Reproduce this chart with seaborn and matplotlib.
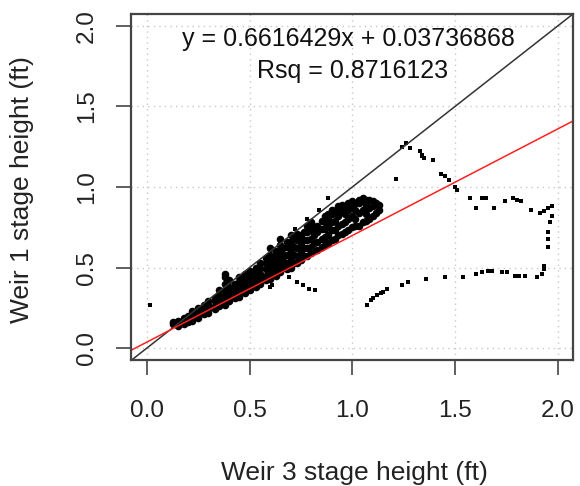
import pandas as pd
import matplotlib
matplotlib.use("Agg")
import matplotlib.pyplot as plt
import seaborn as sns

# regression fit shown on the chart
slope = 0.6616429
intercept = 0.03736868
rsq = 0.8716123

# dense band of points (weir 3 vs weir 1 stage height, ft)
band_x = [0.13, 0.13,
          0.15, 0.15, 0.15,
          0.18, 0.18, 0.18,
          0.20, 0.20, 0.20,
          0.22, 0.22, 0.22, 0.22,
          0.25, 0.25, 0.25, 0.25,
          0.28, 0.28, 0.28, 0.28,
          0.30, 0.30, 0.30, 0.30,
          0.33, 0.33, 0.33, 0.33,
          0.35, 0.35, 0.35, 0.35, 0.35,
          0.38, 0.38, 0.38, 0.38, 0.38, 0.38, 0.38,
          0.40, 0.40, 0.40, 0.40, 0.40,
          0.43, 0.43, 0.43, 0.43,
          0.45, 0.45, 0.45, 0.45, 0.45,
          0.48, 0.48, 0.48, 0.48, 0.48,
          0.50, 0.50, 0.50, 0.50, 0.50,
          0.53, 0.53, 0.53, 0.53, 0.53,
          0.55, 0.55, 0.55, 0.55, 0.55,
          0.58, 0.58, 0.58, 0.58, 0.58,
          0.60, 0.60, 0.60, 0.60, 0.60, 0.60,
          0.63, 0.63, 0.63, 0.63, 0.63,
          0.65, 0.65, 0.65, 0.65, 0.65, 0.65,
          0.68, 0.68, 0.68, 0.68, 0.68,
          0.70, 0.70, 0.70, 0.70, 0.70,
          0.73, 0.73, 0.73, 0.73, 0.73,
          0.75, 0.75, 0.75, 0.75,
          0.78, 0.78, 0.78, 0.78, 0.78,
          0.80, 0.80, 0.80, 0.80, 0.80,
          0.83, 0.83, 0.83, 0.83,
          0.85, 0.85, 0.85, 0.85,
          0.88, 0.88, 0.88, 0.88, 0.88,
          0.90, 0.90, 0.90, 0.90, 0.90,
          0.93, 0.93, 0.93, 0.93, 0.93,
          0.95, 0.95, 0.95, 0.95,
          0.98, 0.98, 0.98, 0.98,
          1.00, 1.00, 1.00, 1.00,
          1.03, 1.03, 1.03, 1.03,
          1.05, 1.05, 1.05, 1.05,
          1.08, 1.08, 1.08,
          1.10, 1.10, 1.10,
          1.13, 1.13,
          # in-between columns of the thick part of the band
          0.615, 0.615, 0.615,
          0.665, 0.665, 0.665, 0.665,
          0.715, 0.715, 0.715, 0.715,
          0.765, 0.765, 0.765, 0.765,
          0.815, 0.815, 0.815, 0.815,
          0.865, 0.865, 0.865, 0.865, 0.865,
          0.915, 0.915, 0.915, 0.915,
          0.965, 0.965, 0.965, 0.965,
          1.015, 1.015, 1.015, 1.015,
          1.065, 1.065, 1.065, 1.065,
          1.115, 1.115]
band_y = [0.15, 0.16,
          0.14, 0.16, 0.17,
          0.15, 0.17, 0.19,
          0.16, 0.18, 0.20,
          0.17, 0.19, 0.21, 0.23,
          0.19, 0.21, 0.23, 0.25,
          0.21, 0.23, 0.25, 0.27,
          0.22, 0.24, 0.27, 0.29,
          0.24, 0.26, 0.29, 0.31,
          0.26, 0.28, 0.30, 0.33, 0.36,
          0.27, 0.30, 0.33, 0.36, 0.40, 0.44, 0.46,
          0.29, 0.32, 0.35, 0.38, 0.42,
          0.31, 0.34, 0.37, 0.40,
          0.32, 0.35, 0.38, 0.41, 0.44,
          0.34, 0.37, 0.40, 0.43, 0.46,
          0.36, 0.39, 0.42, 0.45, 0.48,
          0.38, 0.41, 0.44, 0.47, 0.50,
          0.40, 0.43, 0.46, 0.50, 0.53,
          0.42, 0.45, 0.49, 0.53, 0.56,
          0.43, 0.47, 0.51, 0.55, 0.58, 0.62,
          0.45, 0.49, 0.53, 0.57, 0.60,
          0.47, 0.51, 0.55, 0.60, 0.64, 0.68,
          0.49, 0.53, 0.58, 0.63, 0.66,
          0.50, 0.55, 0.60, 0.66, 0.70,
          0.53, 0.57, 0.62, 0.67, 0.71,
          0.55, 0.60, 0.65, 0.70,
          0.57, 0.62, 0.67, 0.72, 0.76,
          0.59, 0.63, 0.68, 0.73, 0.78,
          0.61, 0.66, 0.72, 0.76,
          0.63, 0.68, 0.74, 0.79,
          0.65, 0.70, 0.76, 0.80, 0.83,
          0.67, 0.73, 0.78, 0.83, 0.86,
          0.70, 0.76, 0.82, 0.86, 0.88,
          0.71, 0.77, 0.85, 0.89,
          0.73, 0.80, 0.86, 0.90,
          0.75, 0.82, 0.88, 0.91,
          0.76, 0.84, 0.90, 0.92,
          0.78, 0.86, 0.91, 0.93,
          0.80, 0.87, 0.92,
          0.82, 0.88, 0.91,
          0.86, 0.89,
          0.46, 0.50, 0.54,
          0.50, 0.54, 0.58, 0.62,
          0.53, 0.58, 0.63, 0.68,
          0.57, 0.62, 0.67, 0.72,
          0.60, 0.65, 0.70, 0.75,
          0.64, 0.69, 0.74, 0.78, 0.82,
          0.68, 0.73, 0.79, 0.85,
          0.72, 0.78, 0.83, 0.88,
          0.76, 0.80, 0.86, 0.90,
          0.79, 0.83, 0.89, 0.92,
          0.84, 0.90]

# scattered points outside the band
scatter_x = [0.015,
             # just above the band, near the 1:1 line
             0.84, 0.88, 0.72, 0.78,
             # trail below the band near x = 0.7
             0.61, 0.60, 0.69, 0.73, 0.76, 0.79, 0.82,
             # upper arc
             1.24, 1.26, 1.28, 1.33, 1.34, 1.34, 1.35, 1.39, 1.21,
             1.43, 1.45, 1.47, 1.50, 1.51,
             1.57, 1.60, 1.63, 1.65, 1.69, 1.74, 1.78, 1.80, 1.82,
             1.87, 1.91, 1.93, 1.95, 1.97, 1.97, 1.96, 1.95, 1.95, 1.95,
             # lower branch
             1.07, 1.09, 1.10, 1.12, 1.14, 1.15, 1.17, 1.24, 1.27,
             1.36, 1.45, 1.54, 1.60, 1.63, 1.66, 1.68, 1.73, 1.75,
             1.79, 1.81, 1.84, 1.90, 1.92, 1.93, 1.93]
scatter_y = [0.27,
             0.86, 0.93, 0.74, 0.80,
             0.39, 0.38, 0.44, 0.41, 0.39, 0.37, 0.36,
             1.25, 1.27, 1.24, 1.22, 1.19, 1.20, 1.18, 1.17, 1.05,
             1.08, 1.07, 1.04, 1.00, 0.98,
             0.93, 0.87, 0.93, 0.93, 0.87, 0.91, 0.93, 0.92, 0.91,
             0.86, 0.84, 0.85, 0.87, 0.88, 0.82, 0.78, 0.72, 0.68, 0.63,
             0.265, 0.30, 0.31, 0.33, 0.34, 0.35, 0.37, 0.39, 0.41,
             0.43, 0.44, 0.44, 0.46, 0.475, 0.48, 0.48, 0.47, 0.47,
             0.45, 0.45, 0.45, 0.44, 0.46, 0.49, 0.51]

ticks = [0.0, 0.5, 1.0, 1.5, 2.0]
tick_labels = ["0.0", "0.5", "1.0", "1.5", "2.0"]

band_df = pd.DataFrame({"weir3": band_x, "weir1": band_y})
scatter_df = pd.DataFrame({"weir3": scatter_x, "weir1": scatter_y})

sns.set_style("white")
plt.rcParams['font.family'] = ['Liberation Sans', 'DejaVu Sans']

fig = plt.figure(figsize=(5.8, 4.86), dpi=100)
ax = fig.add_axes([0.226, 0.259, 0.762, 0.712])

ax.set_xlim(-0.076, 2.073)
ax.set_ylim(-0.074, 2.072)

ax.grid(True, linestyle=(0, (1, 3)), color='#c8c8c8', linewidth=1.0)
ax.set_axisbelow(True)

sns.scatterplot(data=band_df, x="weir3", y="weir1", ax=ax, color="black",
                marker="o", s=30, linewidth=0)
sns.scatterplot(data=scatter_df, x="weir3", y="weir1", ax=ax, color="black",
                marker="s", s=9, linewidth=0)

# 1:1 line and fitted line
ax.axline((0, 0), slope=1, color='#333333', linewidth=1.1)
ax.axline((0, intercept), slope=slope, color='#ff2020', linewidth=1.1)

ax.text(0.98, 1.92, f"y = {slope}x + {intercept}", ha='center', va='center',
        fontsize=18, color='#111111')
ax.text(1.0, 1.72, f"Rsq = {rsq}", ha='center', va='center',
        fontsize=18, color='#111111')

ax.set_xticks(ticks)
ax.set_xticklabels(tick_labels)
ax.set_yticks(ticks)
ax.set_yticklabels(tick_labels)
plt.setp(ax.get_yticklabels(), rotation=90, va='center')

ax.tick_params(axis='both', direction='out', length=11, width=1.2,
               color='#444444', labelsize=17.5, labelcolor='#222222')
ax.tick_params(axis='x', pad=18, bottom=True)
ax.tick_params(axis='y', pad=13, left=True)

for sp in ax.spines.values():
    sp.set_color('#444444')
    sp.set_linewidth(1.6)

ax.set_xlabel("Weir 3 stage height (ft)", fontsize=19, color='#222222')
ax.set_ylabel("Weir 1 stage height (ft)", fontsize=19, color='#222222')
ax.xaxis.label.set_va('center')
ax.yaxis.label.set_va('center')
ax.xaxis.set_label_coords(0.505, -0.327)
ax.yaxis.set_label_coords(-0.247, 0.494)

fig.savefig("out.png", dpi=100)
